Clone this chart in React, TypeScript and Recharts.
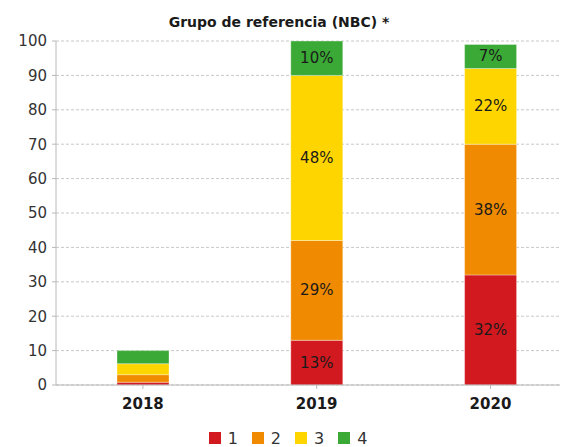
import { BarChart, Bar, XAxis, YAxis, CartesianGrid, LabelList, Legend } from "recharts";

const years = [2018, 2019, 2020];
const group1 = [0.8, 13, 32];
const group2 = [2.2, 29, 38];
const group3 = [3.2, 48, 22];
const group4 = [3.8, 10, 7];
const yTicks = [0, 10, 20, 30, 40, 50, 60, 70, 80, 90, 100];

const series = [
  { key: "g1", name: "1", color: "#d2191f" },
  { key: "g2", name: "2", color: "#f08a00" },
  { key: "g3", name: "3", color: "#ffd500" },
  { key: "g4", name: "4", color: "#3ba935" },
];

const data = years.map((year, i) => ({
  year,
  g1: group1[i],
  g2: group2[i],
  g3: group3[i],
  g4: group4[i],
}));

const FONT = "'DejaVu Sans', Verdana, sans-serif";

// only label segments big enough to hold text
const renderLabel = (props: any) => {
  const { x, y, width, height, value } = props;
  if (value < 5) return null;
  return (
    <text
      x={x + width / 2}
      y={y + height / 2}
      textAnchor="middle"
      dominantBaseline="central"
      fontSize={15}
      fontFamily={FONT}
      fill="#1a1a1a"
    >
      {value}%
    </text>
  );
};

const renderLegend = () => (
  <div style={{ display: "flex", justifyContent: "center", gap: 14, fontFamily: FONT, fontSize: 16, color: "#333", paddingLeft: 16, height: 24, alignItems: "center" }}>
    {series.map((s) => (
      <span key={s.key} style={{ display: "flex", alignItems: "center", gap: 7 }}>
        <span style={{ width: 12, height: 12, background: s.color, display: "inline-block" }} />
        {s.name}
      </span>
    ))}
  </div>
);

export default function App() {
  return (
    <div style={{ position: "absolute", left: 0, top: 0, width: 567, height: 447, background: "#fff" }}>
      <div
        style={{
          position: "absolute",
          top: 14,
          left: 0,
          width: 558,
          textAlign: "center",
          fontFamily: FONT,
          fontWeight: "bold",
          fontSize: 14,
          color: "#1a1a1a",
        }}
      >
        Grupo de referencia (NBC) *
      </div>
      <BarChart
        width={567}
        height={447}
        data={data}
        barSize={52}
        margin={{ top: 41, right: 7, left: 0, bottom: 8 }}
      >
        <CartesianGrid vertical={false} stroke="#c8c8c8" strokeDasharray="3 2" />
        <XAxis
          dataKey="year"
          type="number"
          domain={[2017.5, 2020.4]}
          ticks={years}
          allowDataOverflow
          stroke="#b8b8b8"
          tickSize={4}
          tick={{ fontSize: 15, fontWeight: "bold", fill: "#1a1a1a", fontFamily: FONT }}
          tickMargin={9}
        />
        <YAxis
          width={56}
          domain={[0, 100]}
          ticks={yTicks}
          stroke="#b8b8b8"
          tickSize={4}
          tickMargin={5}
          tick={{ fontSize: 15, fill: "#333", fontFamily: FONT }}
        />
        <Legend verticalAlign="bottom" content={renderLegend} wrapperStyle={{ bottom: -3 }} />
        {series.map((s) => (
          <Bar
            key={s.key}
            dataKey={s.key}
            name={s.name}
            stackId="a"
            fill={s.color}
            stroke="rgba(255,255,255,0.35)"
            strokeWidth={1}
            isAnimationActive={false}
          >
            <LabelList dataKey={s.key} content={renderLabel} />
          </Bar>
        ))}
      </BarChart>
    </div>
  );
}
